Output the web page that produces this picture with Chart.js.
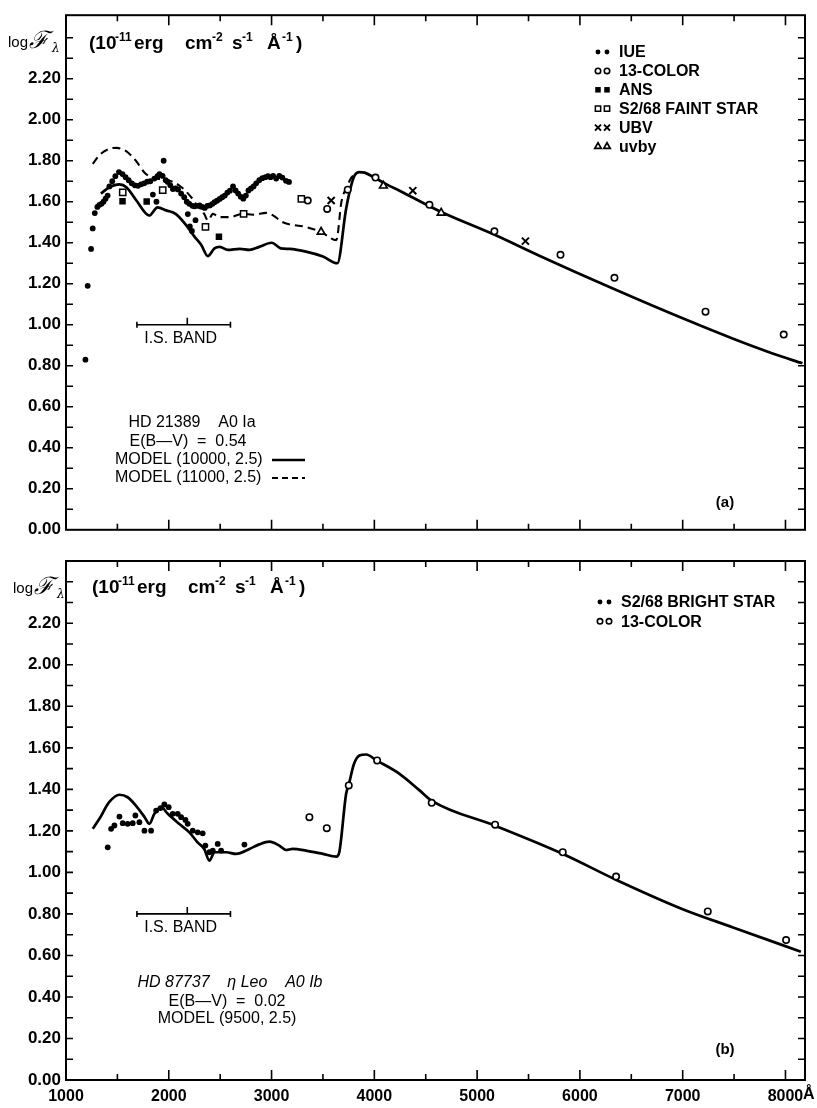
<!DOCTYPE html>
<html>
<head>
<meta charset="utf-8">
<script src="https://cdn.jsdelivr.net/npm/chart.js@4.4.1/dist/chart.umd.min.js"></script>
<style>
  html, body { margin: 0; padding: 0; background: #fff; }
  body { width: 817px; height: 1108px; position: relative; overflow: hidden; }
  canvas { position: absolute; left: 0; }
  #chartA { top: 0; }
  #chartB { top: 545px; }
</style>
</head>
<body>
<canvas id="chartA" width="817" height="545"></canvas>
<canvas id="chartB" width="817" height="563"></canvas>
<script>
const SANS = "'Liberation Sans', Arial, Helvetica, sans-serif";

// axis labels
const X_LABELS = [1000, 2000, 3000, 4000, 5000, 6000, 7000, 8000];
const Y_LABELS = [0, 0.2, 0.4, 0.6, 0.8, 1.0, 1.2, 1.4, 1.6, 1.8, 2.0, 2.2];
const IS_BAND = [1690, 2600, 2180];   // start, end, centre tick (Å)

// ---- (a) HD 21389 ----  [wavelength Å, log F]
const IUE_A = [
  [1189, 0.83], [1211, 1.19], [1244, 1.37], [1260, 1.47], [1280, 1.545], [1305, 1.575],
  [1325, 1.585], [1345, 1.59], [1365, 1.60], [1385, 1.615], [1405, 1.63], [1422, 1.675],
  [1450, 1.70], [1480, 1.725], [1515, 1.745], [1550, 1.735], [1580, 1.72], [1610, 1.705],
  [1640, 1.69], [1670, 1.68], [1700, 1.678], [1730, 1.685], [1760, 1.69], [1790, 1.698],
  [1820, 1.70], [1845, 1.635], [1860, 1.713], [1880, 1.60], [1890, 1.725], [1910, 1.735],
  [1940, 1.726], [1950, 1.80], [1970, 1.705], [1990, 1.697], [2015, 1.68], [2040, 1.662],
  [2065, 1.665], [2090, 1.66], [2120, 1.64], [2150, 1.622], [2175, 1.60], [2185, 1.54],
  [2200, 1.59], [2205, 1.48], [2225, 1.458], [2230, 1.58], [2250, 1.578], [2260, 1.51],
  [2275, 1.58], [2300, 1.582], [2325, 1.575], [2350, 1.57], [2375, 1.58], [2400, 1.582],
  [2425, 1.59], [2445, 1.598], [2470, 1.605], [2495, 1.614], [2520, 1.622], [2545, 1.63],
  [2570, 1.645], [2595, 1.654], [2625, 1.675], [2650, 1.655], [2675, 1.64], [2700, 1.625],
  [2725, 1.615], [2750, 1.63], [2775, 1.655], [2800, 1.665], [2825, 1.675], [2850, 1.69],
  [2880, 1.705], [2910, 1.715], [2940, 1.72], [2965, 1.725], [2990, 1.72], [3015, 1.726],
  [3045, 1.713], [3075, 1.726], [3105, 1.718], [3140, 1.702], [3170, 1.697]
];
const ANS_A = [[1550, 1.602], [1785, 1.601], [2488, 1.429]];
const FAINT_A = [[1552, 1.646], [1941, 1.657], [2357, 1.477], [2728, 1.541], [3290, 1.614]];
const COLOR13_A = [
  [3352, 1.606], [3541, 1.565], [3741, 1.659], [4011, 1.718], [4536, 1.585],
  [5168, 1.456], [5811, 1.341], [6336, 1.229], [7222, 1.064], [7983, 0.952]
];
const UBV_A = [[3580, 1.606], [4374, 1.654], [5470, 1.408]];
const UVBY_A = [[3482, 1.453], [4088, 1.678], [4650, 1.546]];
const MODEL_10000 = [
  [1340, 1.64], [1420, 1.67], [1520, 1.685], [1590, 1.67], [1680, 1.61], [1810, 1.533],
  [1890, 1.573], [1975, 1.558], [2070, 1.54], [2170, 1.485], [2250, 1.43], [2315, 1.39],
  [2380, 1.335], [2445, 1.373], [2495, 1.38], [2575, 1.365], [2690, 1.37], [2785, 1.365],
  [2880, 1.38], [3000, 1.40], [3090, 1.373], [3175, 1.37], [3335, 1.357], [3500, 1.333],
  [3640, 1.30], [3725, 1.565], [3775, 1.68], [3810, 1.73], [3855, 1.745], [3905, 1.742],
  [4000, 1.718], [4115, 1.686], [4245, 1.654], [4635, 1.554], [5170, 1.439], [5605, 1.337],
  [6315, 1.178], [7035, 1.024], [7485, 0.933], [7875, 0.860], [8165, 0.812]
];
const MODEL_11000 = [
  [1260, 1.785], [1330, 1.83], [1420, 1.858], [1490, 1.863], [1585, 1.847], [1680, 1.80],
  [1765, 1.742], [1850, 1.715], [1950, 1.71], [2100, 1.68], [2230, 1.615], [2265, 1.589],
  [2345, 1.541], [2380, 1.509], [2430, 1.541], [2495, 1.525], [2590, 1.525], [2720, 1.541],
  [2820, 1.537], [2950, 1.546], [3010, 1.535], [3110, 1.50], [3335, 1.477], [3480, 1.453],
  [3630, 1.413], [3680, 1.60], [3730, 1.67], [3780, 1.72], [3830, 1.74]
];

// ---- (b) HD 87737 eta Leo ----
const BRIGHT_B = [
  [1406, 1.121], [1439, 1.21], [1471, 1.226], [1520, 1.269], [1552, 1.237], [1600, 1.234],
  [1649, 1.237], [1675, 1.274], [1714, 1.242], [1763, 1.201], [1828, 1.201], [1877, 1.298],
  [1920, 1.31], [1957, 1.327], [1999, 1.314], [2038, 1.282], [2087, 1.282], [2120, 1.266],
  [2162, 1.253], [2184, 1.234], [2233, 1.201], [2282, 1.193], [2330, 1.188], [2356, 1.129],
  [2395, 1.097], [2428, 1.105], [2476, 1.137], [2509, 1.105], [2736, 1.134]
];
const COLOR13_B = [
  [3368, 1.266], [3537, 1.213], [3751, 1.419], [4027, 1.539], [4558, 1.335],
  [5175, 1.230], [5833, 1.097], [6352, 0.980], [7244, 0.812], [8006, 0.674]
];
const MODEL_9500 = [
  [1260, 1.21], [1325, 1.258], [1420, 1.338], [1520, 1.374], [1600, 1.362], [1680, 1.322],
  [1765, 1.266], [1810, 1.234], [1860, 1.282], [1925, 1.314], [1990, 1.282], [2100, 1.234],
  [2200, 1.193], [2280, 1.145], [2345, 1.113], [2395, 1.057], [2445, 1.097], [2560, 1.097],
  [2655, 1.089], [2785, 1.113], [2880, 1.135], [2980, 1.148], [3075, 1.129], [3140, 1.108],
  [3205, 1.113], [3335, 1.105], [3500, 1.089], [3630, 1.076], [3660, 1.10], [3725, 1.378],
  [3750, 1.42], [3800, 1.52], [3855, 1.563], [3920, 1.568], [4020, 1.54], [4245, 1.475],
  [4440, 1.395], [4560, 1.345], [5175, 1.225], [5830, 1.09], [6350, 0.965], [7000, 0.823],
  [7490, 0.735], [8150, 0.618]
];

const pts = arr => arr.map(([x, y]) => ({ x, y }));

const MARK = {
  dot:      { pointStyle: 'circle',   radius: 2.9, fill: '#000', bw: 0 },
  ring:     { pointStyle: 'circle',   radius: 3.2, fill: '#fff', bw: 1.6 },
  square:   { pointStyle: 'rect',     radius: 4.6, fill: '#000', bw: 0 },
  box:      { pointStyle: 'rect',     radius: 4.4, fill: '#fff', bw: 1.5 },
  cross:    { pointStyle: 'crossRot', radius: 5.0, fill: '#000', bw: 2 },
  triangle: { pointStyle: 'triangle', radius: 4.4, fill: '#fff', bw: 1.7 }
};

function markers(label, data, m) {
  return {
    label, data: pts(data), showLine: false,
    pointStyle: m.pointStyle, pointRadius: m.radius,
    pointBackgroundColor: m.fill, pointBorderColor: '#000', pointBorderWidth: m.bw
  };
}

function model(label, data, dash, width) {
  return {
    label, data: pts(data), showLine: true, pointRadius: 0,
    borderColor: '#000', borderWidth: width, borderDash: dash,
    cubicInterpolationMode: 'monotone', fill: false
  };
}

function drawMarker(ctx, m, x, y) {
  ctx.save();
  ctx.fillStyle = m.fill; ctx.strokeStyle = '#000'; ctx.lineWidth = m.bw;
  if (Chart.helpers && Chart.helpers.drawPoint) {
    Chart.helpers.drawPoint(ctx, { pointStyle: m.pointStyle, radius: m.radius * 0.85, rotation: 0, borderWidth: m.bw }, x, y);
  } else {
    ctx.beginPath(); ctx.arc(x, y, m.radius, 0, Math.PI * 2); ctx.fill(); if (m.bw) ctx.stroke();
  }
  ctx.restore();
}

function drawFluxTitle(ctx, x0, base) {
  const parts = [[0, '(10', 0], [26, '-11', 1], [45, 'erg', 0], [96, 'cm', 0], [123, '-2', 1],
                 [143, 's', 0], [153, '-1', 1], [178, 'Å', 0], [193, '-1', 1], [207, ')', 0]];
  ctx.textAlign = 'left'; ctx.textBaseline = 'alphabetic';
  parts.forEach(([dx, t, sup]) => {
    ctx.font = sup ? `bold 12px ${SANS}` : `bold 19px ${SANS}`;
    ctx.fillText(t, x0 + dx, sup ? base - 8 : base);
  });
}

function drawLogF(ctx, x0, base) {
  ctx.textAlign = 'left'; ctx.textBaseline = 'alphabetic';
  ctx.font = `15px ${SANS}`;
  ctx.fillText('log', x0, base);
  ctx.font = `italic 24px 'DejaVu Serif', serif`;
  ctx.fillText('ℱ', x0 + 21, base + 1);
  ctx.font = `italic 12px 'DejaVu Serif', serif`;
  ctx.fillText('λ', x0 + 44, base + 5);
}

function panelDecor(p) {
  return {
    id: 'panelDecor',
    afterDraw(chart) {
      const ctx = chart.ctx, a = chart.chartArea;
      const xs = chart.scales.x, ys = chart.scales.y;
      ctx.save();
      ctx.strokeStyle = '#000'; ctx.fillStyle = '#000';

      // frame + inward ticks on all four sides
      ctx.lineWidth = 2;
      ctx.strokeRect(a.left, a.top, a.right - a.left, a.bottom - a.top);
      ctx.lineWidth = 1.6;
      ctx.beginPath();
      for (let w = 1500; w < xs.max; w += 500) {
        const px = xs.getPixelForValue(w), len = w % 1000 ? 6 : 10;
        ctx.moveTo(px, a.bottom); ctx.lineTo(px, a.bottom - len);
        ctx.moveTo(px, a.top); ctx.lineTo(px, a.top + len);
      }
      for (let i = 1; i / 10 < ys.max - 0.02; i++) {
        const py = ys.getPixelForValue(i / 10);
        ctx.moveTo(a.left, py); ctx.lineTo(a.left + 7, py);
        ctx.moveTo(a.right, py); ctx.lineTo(a.right - 7, py);
      }
      ctx.stroke();

      drawLogF(ctx, p.logF[0], p.logF[1]);
      drawFluxTitle(ctx, p.title[0], p.title[1]);

      // I.S. band bracket
      const b0 = xs.getPixelForValue(IS_BAND[0]), b1 = xs.getPixelForValue(IS_BAND[1]);
      const bm = xs.getPixelForValue(IS_BAND[2]), by = ys.getPixelForValue(p.band);
      ctx.lineWidth = 1.6;
      ctx.beginPath();
      ctx.moveTo(b0, by); ctx.lineTo(b1, by);
      ctx.moveTo(b0, by - 3); ctx.lineTo(b0, by + 3);
      ctx.moveTo(b1, by - 3); ctx.lineTo(b1, by + 3);
      ctx.moveTo(bm, by); ctx.lineTo(bm, by - 7);
      ctx.stroke();
      ctx.font = `16px ${SANS}`; ctx.textAlign = 'center'; ctx.textBaseline = 'middle';
      ctx.fillText('I.S. BAND', (b0 + b1) / 2 - 3, by + 14);

      // legend
      ctx.textAlign = 'left';
      p.legend.forEach(([m, text], k) => {
        const ly = p.legendY + k * p.legendGap;
        drawMarker(ctx, m, p.legendX, ly);
        drawMarker(ctx, m, p.legendX + 9, ly);
        ctx.font = `bold 16px ${SANS}`;
        ctx.fillText(text, p.legendX + 21, ly + 1);
      });

      // star notes
      p.notes.forEach(n => {
        ctx.font = n.font; ctx.textAlign = n.align;
        ctx.fillText(n.text, n.x, n.y);
        if (n.sample) {
          ctx.lineWidth = n.sample === 'solid' ? 2.6 : 2;
          ctx.setLineDash(n.sample === 'solid' ? [] : [6, 4]);
          ctx.beginPath(); ctx.moveTo(n.x + 157, n.y); ctx.lineTo(n.x + 190, n.y); ctx.stroke();
          ctx.setLineDash([]);
        }
      });

      ctx.font = `bold 15px ${SANS}`; ctx.textAlign = 'center';
      ctx.fillText(p.tag, 725, p.tagY);
      if (p.angstrom) {
        ctx.font = `bold 16px ${SANS}`; ctx.textAlign = 'left'; ctx.textBaseline = 'top';
        ctx.fillText('Å', 803, a.bottom + 7);
      }
      ctx.restore();
    }
  };
}

function makeOptions(yMax, xHeight, padTop, showX) {
  return {
    responsive: false, animation: false, events: [],
    layout: { padding: { top: padTop, right: 12, left: 0, bottom: 0 } },
    plugins: { legend: { display: false }, tooltip: { enabled: false } },
    scales: {
      x: {
        type: 'linear', min: 1000, max: 8190,
        grid: { display: false, drawTicks: false }, border: { display: false },
        afterBuildTicks: s => { s.ticks = X_LABELS.map(v => ({ value: v })); },
        afterFit: s => { s.height = xHeight; },
        ticks: { display: showX, padding: 7, color: '#000', font: { family: SANS, size: 16, weight: 'bold' },
                 callback: v => String(v) }
      },
      y: {
        type: 'linear', min: 0, max: yMax,
        grid: { display: false, drawTicks: false }, border: { display: false },
        afterBuildTicks: s => { s.ticks = Y_LABELS.map(v => ({ value: v })); },
        afterFit: s => { s.width = 66; },
        ticks: { padding: 5, color: '#000', font: { family: SANS, size: 17, weight: 'bold' },
                 callback: v => v.toFixed(2) }
      }
    }
  };
}

new Chart(document.getElementById('chartA'), {
  type: 'scatter',
  data: {
    datasets: [
      markers('IUE', IUE_A, MARK.dot),
      markers('ANS', ANS_A, MARK.square),
      markers('S2/68 FAINT STAR', FAINT_A, MARK.box),
      markers('13-COLOR', COLOR13_A, MARK.ring),
      markers('UBV', UBV_A, MARK.cross),
      markers('uvby', UVBY_A, MARK.triangle),
      model('MODEL (10000, 2.5)', MODEL_10000, [], 2.7),
      model('MODEL (11000, 2.5)', MODEL_11000, [8, 5], 2.1)
    ]
  },
  options: makeOptions(2.51, 13.5, 10, false),
  plugins: [panelDecor({
    logF: [8, 47], title: [89, 49], band: 1.0,
    legendX: 598, legendY: 52, legendGap: 18.9,
    legend: [[MARK.dot, 'IUE'], [MARK.ring, '13-COLOR'], [MARK.square, 'ANS'],
             [MARK.box, 'S2/68 FAINT STAR'], [MARK.cross, 'UBV'], [MARK.triangle, 'uvby']],
    notes: [
      { text: 'HD 21389    A0 Ia', x: 192, y: 423, align: 'center', font: `16px ${SANS}` },
      { text: 'E(B\u2014V)  =  0.54', x: 188, y: 442, align: 'center', font: `16px ${SANS}` },
      { text: 'MODEL (10000, 2.5)', x: 115, y: 460, align: 'left', font: `16px ${SANS}`, sample: 'solid' },
      { text: 'MODEL (11000, 2.5)', x: 115, y: 478, align: 'left', font: `16px ${SANS}`, sample: 'dash' }
    ],
    tag: '(a)', tagY: 503
  })]
});

new Chart(document.getElementById('chartB'), {
  type: 'scatter',
  data: {
    datasets: [
      markers('S2/68 BRIGHT STAR', BRIGHT_B, MARK.dot),
      markers('13-COLOR', COLOR13_B, MARK.ring),
      model('MODEL (9500, 2.5)', MODEL_9500, [], 2.7)
    ]
  },
  options: makeOptions(2.5, 28, 16, true),
  plugins: [panelDecor({
    logF: [13, 48], title: [92, 48], band: 0.8,
    legendX: 600, legendY: 57, legendGap: 19.3,
    legend: [[MARK.dot, 'S2/68 BRIGHT STAR'], [MARK.ring, '13-COLOR']],
    notes: [
      { text: 'HD 87737    \u03b7 Leo    A0 Ib', x: 230, y: 438, align: 'center', font: `italic 16px ${SANS}` },
      { text: 'E(B\u2014V)  =  0.02', x: 227, y: 457, align: 'center', font: `16px ${SANS}` },
      { text: 'MODEL (9500, 2.5)', x: 227, y: 474, align: 'center', font: `16px ${SANS}` }
    ],
    tag: '(b)', tagY: 505, angstrom: true
  })]
});
</script>
</body>
</html>
